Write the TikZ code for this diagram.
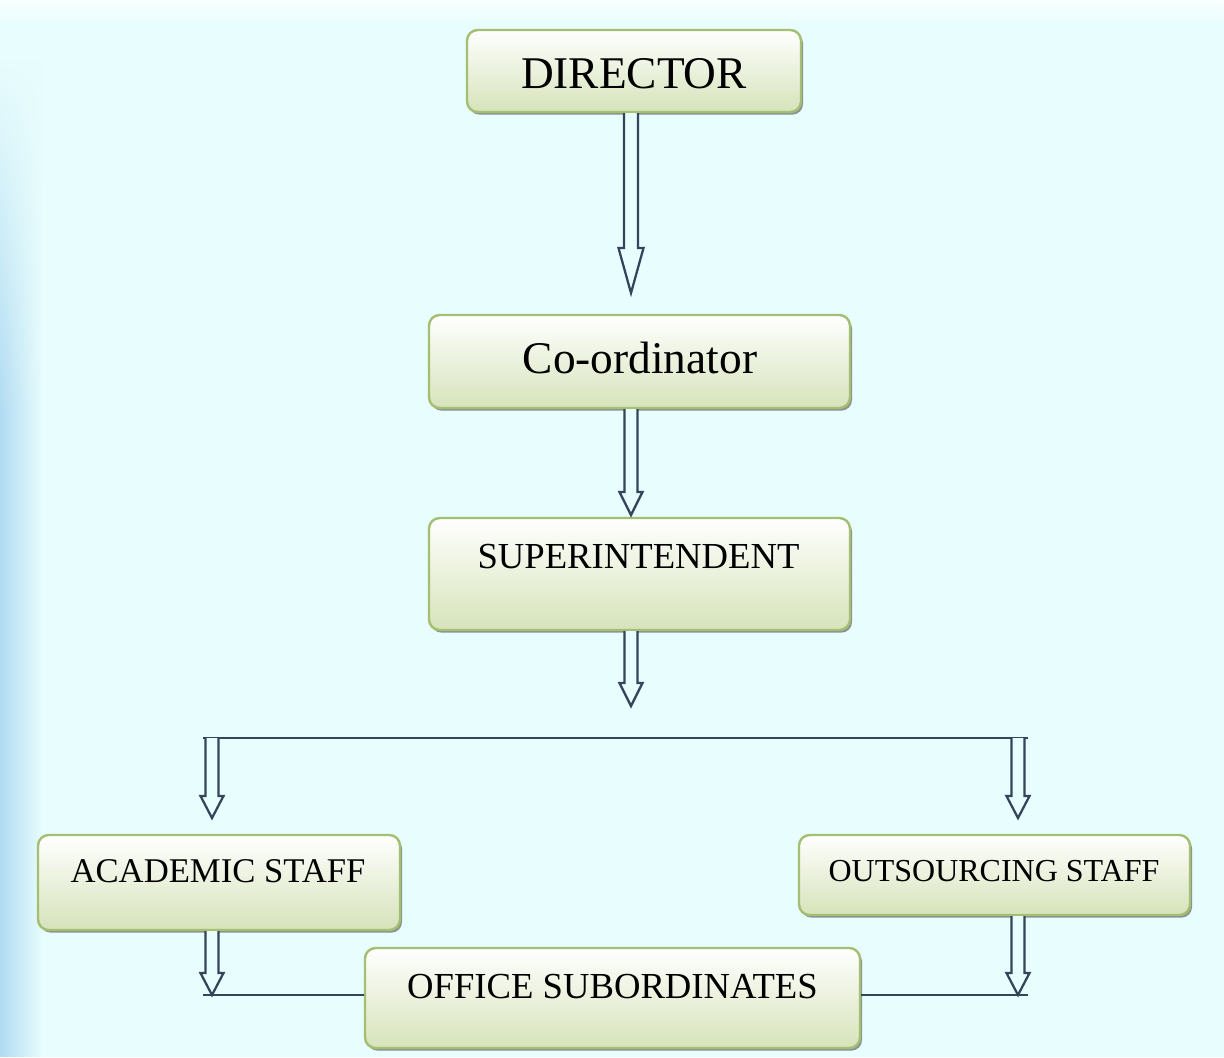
\documentclass[tikz,border=0pt]{standalone}
\usepackage{fontspec}
\setmainfont{Liberation Serif}
\usetikzlibrary{calc,shadows,fadings}
\definecolor{bgc}{HTML}{E8FDFD}
\definecolor{boxg}{HTML}{D6E3BA}
\definecolor{boxb}{HTML}{A4BE72}
\definecolor{arrc}{HTML}{34445A}
\definecolor{edgeb}{HTML}{B0DBF3}
\tikzset{
  box/.style={draw=boxb, line width=1.8pt, rounded corners=8pt,
    top color=white, bottom color=boxg, inner sep=0pt,
    drop shadow={shadow xshift=1.5pt, shadow yshift=-2pt, fill=black!70, opacity=0.6}},
  lbl/.style={inner sep=0pt, text=black},
  arr/.style={draw=arrc, line width=1.7pt, fill=bgc, line join=miter},
  hline/.style={draw=arrc, line width=1.9pt}
}
% block arrow: start, tip, shaft half width, head half width, head length
\newcommand{\blockarr}[5]{%
  \draw[arr] ($(#1)+(-#3,0)$) -- ($(#2)+(-#3,-#5)$) -- ($(#2)+(-#4,-#5)$) -- (#2)
    -- ($(#2)+(#4,-#5)$) -- ($(#2)+(#3,-#5)$) -- ($(#1)+(#3,0)$);}
\begin{document}
\begin{tikzpicture}[x=0.75pt,y=-0.75pt]
\useasboundingbox (0,0) rectangle (1224,1057);
\fill[bgc] (0,0) rectangle (1224,1057);
\shade[top color=white!70!bgc, bottom color=bgc] (0,0) rectangle (1224,26);
\fill[edgeb, path fading=east] (0,60) rectangle (42,1057);
\fill[bgc, path fading=south] (0,60) rectangle (42,420);

% boxes
\node[box, minimum width=334*0.75pt, minimum height=82*0.75pt] (dir) at (634,71) {};
\node[lbl, font=\fontsize{34}{38}\selectfont] at (634,74) {DIRECTOR};

\node[box, minimum width=421*0.75pt, minimum height=93*0.75pt] (coord) at (639.5,361.5) {};
\node[lbl, font=\fontsize{34}{38}\selectfont] at (640,358) {Co-ordinator};

\node[box, minimum width=421*0.75pt, minimum height=112*0.75pt] (sup) at (639.5,574) {};
\node[lbl, font=\fontsize{27.5}{30}\selectfont] at (638.5,557) {SUPERINTENDENT};

\node[box, minimum width=362*0.75pt, minimum height=95*0.75pt] (acad) at (219,882.5) {};
\node[lbl, font=\fontsize{26}{30}\selectfont] at (218,871) {ACADEMIC STAFF};

\node[box, minimum width=391*0.75pt, minimum height=80*0.75pt] (outs) at (994.5,875) {};
\node[lbl, font=\fontsize{24}{28}\selectfont] at (994,871) {OUTSOURCING STAFF};

\node[box, minimum width=495*0.75pt, minimum height=100*0.75pt] (off) at (612.5,998) {};
\node[lbl, font=\fontsize{27.5}{30}\selectfont] at (612.5,987) {OFFICE SUBORDINATES};

% coordinates
\coordinate (a1s) at (631,113);
\coordinate (t1) at (631,293);
\coordinate (a2s) at (631,409);
\coordinate (t2) at (631,515);
\coordinate (a3s) at (631,631);
\coordinate (t3) at (631,706);
\coordinate (hl) at (203,738);
\coordinate (hr) at (1028,738);
\coordinate (la) at (212,738);
\coordinate (ra) at (1018,738);
\coordinate (lt) at (212,818);
\coordinate (rt) at (1018,818);
\coordinate (las) at (212,931);
\coordinate (ras) at (1018,916);
\coordinate (lb) at (212,995);
\coordinate (rb) at (1018,995);
\coordinate (bl) at (203,995);
\coordinate (br) at (1028,995);

% arrows
\blockarr{a1s}{t1}{7}{12.5}{45}
\blockarr{a2s}{t2}{6.5}{11.5}{23}
\blockarr{a3s}{t3}{6.5}{11.5}{23}

\draw[hline] (hl) -- (hr);
\blockarr{la}{lt}{6.5}{11.5}{22}
\blockarr{ra}{rt}{6.5}{11.5}{22}

\blockarr{las}{lb}{6.5}{11.5}{22}
\blockarr{ras}{rb}{6.5}{11.5}{22}
\draw[hline] (bl) -- (off.west |- bl);
\draw[hline] (off.east |- br) -- (br);
\end{tikzpicture}
\end{document}
